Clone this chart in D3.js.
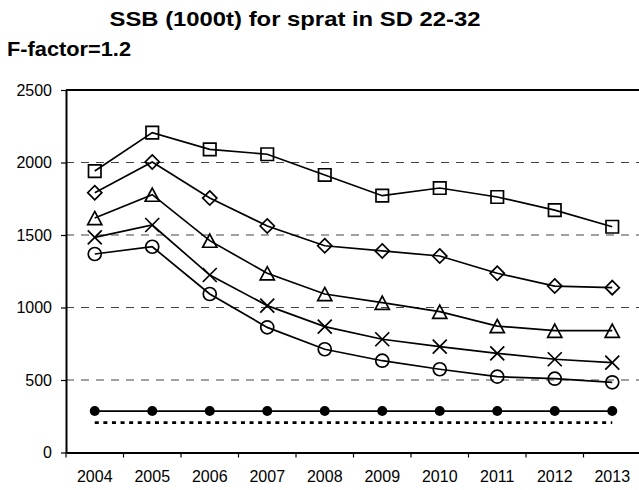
<!DOCTYPE html>
<html>
<head>
<meta charset="utf-8">
<script src="https://cdn.jsdelivr.net/npm/d3@7"></script>
<style>
  body { margin: 0; background: #fff; }
  svg { display: block; font-family: "Liberation Sans", Arial, sans-serif; }
</style>
</head>
<body>
<div class="chart"></div>
<script>
var width = 639, height = 490;
var plot = {left: 66, right: 641, top: 90, bottom: 452.5};

// values (1000 t)
const years = ['2004', '2005', '2006', '2007', '2008', '2009', '2010', '2011', '2012', '2013'];
const ssbSquare   = [1941, 2206, 2091, 2057, 1914, 1771, 1824, 1762, 1672, 1557];
const ssbDiamond  = [1792, 2004, 1755, 1562, 1426, 1390, 1355, 1236, 1148, 1137];
const ssbTriangle = [1617, 1778, 1461, 1236, 1093, 1033, 971, 872, 840, 840];
const ssbCross    = [1484, 1569, 1224, 1013, 868, 781, 730, 684, 643, 620];
const ssbCircle   = [1369, 1419, 1093, 863, 712, 633, 574, 523, 509, 484];
const ssbDots     = [286, 286, 286, 286, 286, 286, 286, 286, 286, 286];
const ssbDotted   = [206, 206, 206, 206, 206, 206, 206, 206, 206, 206];
const yTicks = [0, 500, 1000, 1500, 2000, 2500];

// marker shapes, size = box width squared
const sq = {draw(c, s) { var r = Math.sqrt(s) / 2; c.moveTo(-r, -r); c.lineTo(r, -r); c.lineTo(r, r); c.lineTo(-r, r); c.closePath(); }};
const diamond = {draw(c, s) { var r = Math.sqrt(s) / 2; c.moveTo(0, -r); c.lineTo(r, 0); c.lineTo(0, r); c.lineTo(-r, 0); c.closePath(); }};
const tri = {draw(c, s) { var r = Math.sqrt(s) / 2, h = r * 0.93; c.moveTo(0, -h); c.lineTo(r, h); c.lineTo(-r, h); c.closePath(); }};
const cross = {draw(c, s) { var r = Math.sqrt(s) / 2; c.moveTo(-r, -r); c.lineTo(r, r); c.moveTo(r, -r); c.lineTo(-r, r); }};
const ring = {draw(c, s) { var r = Math.sqrt(s) / 2; c.moveTo(r, 0); c.arc(0, 0, r, 0, 2 * Math.PI); }};

const series = [
  {values: ssbSquare, shape: sq, size: 156},
  {values: ssbDiamond, shape: diamond, size: 200},
  {values: ssbTriangle, shape: tri, size: 200},
  {values: ssbCross, shape: cross, size: 196},
  {values: ssbCircle, shape: ring, size: 169}
];

var svg = d3.select('.chart').append('svg')
  .attr('width', width).attr('height', height);

var x = d3.scaleBand().domain(years).range([plot.left, plot.right]);
var y = d3.scaleLinear().domain([0, 2500]).range([plot.bottom, plot.top]);
var cx = function(i) { return x(years[i]) + x.bandwidth() / 2; };

// titles
svg.append('text')
  .attr('x', 295).attr('y', 26)
  .attr('text-anchor', 'middle')
  .attr('font-weight', 'bold').attr('font-size', 21)
  .attr('textLength', 371).attr('lengthAdjust', 'spacingAndGlyphs')
  .text('SSB (1000t) for sprat in SD 22-32');

svg.append('text')
  .attr('x', 7).attr('y', 56)
  .attr('font-weight', 'bold').attr('font-size', 20)
  .attr('textLength', 124).attr('lengthAdjust', 'spacingAndGlyphs')
  .text('F-factor=1.2');

// dashed gridlines
svg.append('g').selectAll('line')
  .data(yTicks.filter(function(d) { return d > 0 && d < 2500; }))
  .enter().append('line')
    .attr('x1', plot.left).attr('x2', plot.right)
    .attr('y1', d => y(d)).attr('y2', d => y(d))
    .attr('stroke', '#444').attr('stroke-width', 1)
    .attr('stroke-dasharray', '8,7');

// top frame line
svg.append('line')
  .attr('x1', plot.left).attr('x2', plot.right)
  .attr('y1', y(2500)).attr('y2', y(2500))
  .attr('stroke', '#000').attr('stroke-width', 2);

var line = d3.line().x((d, i) => cx(i)).y(d => y(d));

// scenario lines with open markers
series.forEach(function(s) {
  svg.append('path')
    .attr('d', line(s.values))
    .attr('fill', 'none').attr('stroke', '#000').attr('stroke-width', 1.7);
  svg.append('g').selectAll('path')
    .data(s.values).enter().append('path')
      .attr('transform', (d, i) => 'translate(' + cx(i) + ',' + y(d) + ')')
      .attr('d', d3.symbol(s.shape, s.size))
      .attr('fill', 'none').attr('stroke', '#000').attr('stroke-width', 1.7);
});

// reference line with filled dots
svg.append('path')
  .attr('d', line(ssbDots))
  .attr('fill', 'none').attr('stroke', '#000').attr('stroke-width', 1.7);
svg.append('g').selectAll('circle')
  .data(ssbDots).enter().append('circle')
    .attr('cx', (d, i) => cx(i)).attr('cy', d => y(d))
    .attr('r', 5).attr('fill', '#000');

// dotted line
svg.append('path')
  .attr('d', line(ssbDotted))
  .attr('fill', 'none').attr('stroke', '#000').attr('stroke-width', 2.6)
  .attr('stroke-dasharray', '4,4.6');

// y axis
var yAxis = svg.append('g')
  .attr('transform', 'translate(' + plot.left + ',0)')
  .call(d3.axisLeft(y).tickValues(yTicks).tickFormat(d3.format('d'))
    .tickSizeInner(5).tickSizeOuter(0).tickPadding(9));
yAxis.select('.domain').attr('stroke-width', 2);
yAxis.selectAll('.tick line').attr('stroke-width', 1.2);
yAxis.selectAll('text').attr('font-size', 16).attr('fill', '#000')
  .style('font-family', '"Liberation Sans", Arial, sans-serif');

// x axis: labels at band centres, ticks at band edges
var xAxis = svg.append('g')
  .attr('transform', 'translate(0,' + plot.bottom + ')')
  .call(d3.axisBottom(x).tickSize(0).tickPadding(18));
xAxis.select('.domain').attr('stroke-width', 2);
xAxis.selectAll('text').attr('font-size', 16).attr('fill', '#000')
  .style('font-family', '"Liberation Sans", Arial, sans-serif');
xAxis.selectAll('.edge')
  .data(years.map(d => x(d)).concat([plot.right]))
  .enter().append('line')
    .attr('class', 'edge')
    .attr('x1', d => d).attr('x2', d => d)
    .attr('y1', 0).attr('y2', 5)
    .attr('stroke', '#000').attr('stroke-width', 1.2);
</script>
</body>
</html>
